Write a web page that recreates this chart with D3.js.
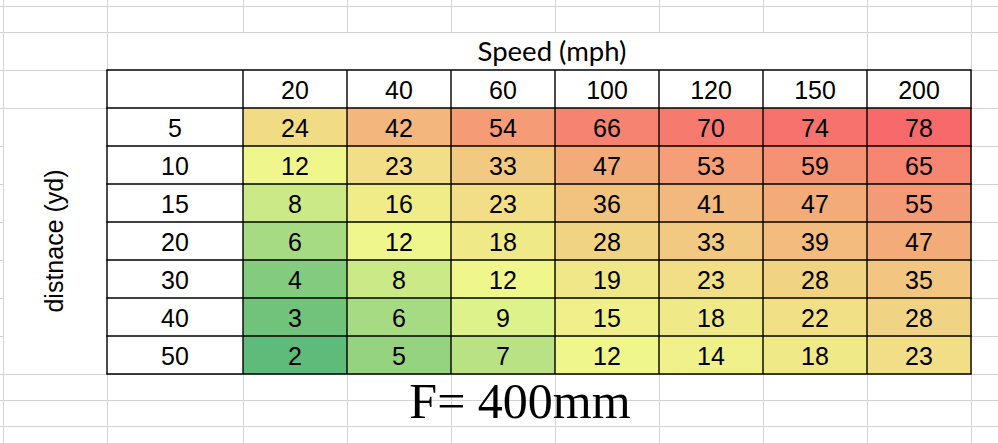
<!DOCTYPE html>
<html>
<head>
<meta charset="utf-8">
<script src="https://cdn.jsdelivr.net/npm/d3@7"></script>
<style>
  html, body { margin: 0; padding: 0; background: #fff; }
  svg { display: block; }
</style>
</head>
<body>
<svg id="chart" width="998" height="443"></svg>
<script>
// ---- data ----
const speeds = [20, 40, 60, 100, 120, 150, 200];      // column headers (mph)
const distances = [5, 10, 15, 20, 30, 40, 50];        // row headers (yd)
const row5  = [24, 42, 54, 66, 70, 74, 78];
const row10 = [12, 23, 33, 47, 53, 59, 65];
const row15 = [8, 16, 23, 36, 41, 47, 55];
const row20 = [6, 12, 18, 28, 33, 39, 47];
const row30 = [4, 8, 12, 19, 23, 28, 35];
const row40 = [3, 6, 9, 15, 18, 22, 28];
const row50 = [2, 5, 7, 12, 14, 18, 23];
const values = [row5, row10, row15, row20, row30, row40, row50];
const colTitle = "Speed (mph)";
const rowTitle = "distnace (yd)";
const footer = "F= 400mm";

// ---- layout ----
const svg = d3.select("#chart");
const W = 998, H = 443;
const x = d3.scaleBand().domain(speeds).range([243, 971]);
const y = d3.scaleBand().domain(distances).range([108, 374]);
const rowH = y.bandwidth();
const labelColL = 107, headerTop = y.range()[0] - rowH;

const cells = [];
values.forEach((r, i) => r.forEach((v, j) => cells.push({ d: distances[i], s: speeds[j], v })));
const vmin = d3.min(cells, c => c.v), vmax = d3.max(cells, c => c.v);
const color = d3.scaleLinear()
  .domain([vmin, 10, vmax])
  .range(["#5fbb79", "#effa8c", "#f8696b"])
  .interpolate(d3.interpolateRgb);

// ---- spreadsheet gridlines ----
const grid = svg.append("g").attr("stroke", "#d3d3d3").attr("stroke-width", 1).attr("shape-rendering", "crispEdges");
const colEdges = [3.5, labelColL + 0.5].concat(speeds.map(s => x(s) + 0.5)).concat([x.range()[1] + 0.5]);
const rowEdges = [6.5, 32.5, headerTop + 0.5].concat(distances.map(d => y(d) + 0.5)).concat([374.5, 400.5, 426.5]);
rowEdges.forEach(ry => {
  const inMerged = ry > y.range()[0] + 1 && ry < y.range()[1] - 1;
  grid.append("line").attr("x1", inMerged ? labelColL : 0).attr("x2", W).attr("y1", ry).attr("y2", ry);
  if (inMerged) grid.append("line").attr("x1", 0).attr("x2", 3.5).attr("y1", ry).attr("y2", ry);
});
colEdges.forEach(cx => {
  const inTitleMerge = cx > labelColL + 1 && cx < x(200) - 1;
  if (inTitleMerge) {
    grid.append("line").attr("x1", cx).attr("x2", cx).attr("y1", 0).attr("y2", 32.5);
    grid.append("line").attr("x1", cx).attr("x2", cx).attr("y1", headerTop).attr("y2", H);
  } else {
    grid.append("line").attr("x1", cx).attr("x2", cx).attr("y1", 0).attr("y2", H);
  }
});

// ---- white table backgrounds ----
svg.append("rect").attr("x", labelColL).attr("y", headerTop)
  .attr("width", x.range()[1] - labelColL).attr("height", y.range()[1] - headerTop).attr("fill", "#fff");
svg.append("rect").attr("x", 4).attr("y", y.range()[0] + 1)
  .attr("width", labelColL - 4).attr("height", y.range()[1] - y.range()[0] - 1).attr("fill", "#fff");
svg.append("rect").attr("x", labelColL + 1).attr("y", 33)
  .attr("width", x(200) - labelColL - 1).attr("height", headerTop - 33).attr("fill", "#fff");

// ---- heat cells ----
svg.append("g").selectAll("rect").data(cells).join("rect")
  .attr("x", c => x(c.s)).attr("y", c => y(c.d))
  .attr("width", x.bandwidth()).attr("height", rowH)
  .attr("fill", c => color(c.v));

// ---- table borders ----
const borders = svg.append("g").attr("stroke", "#000").attr("stroke-width", 1.4);
const vLines = [labelColL].concat(speeds.map(s => x(s))).concat([x.range()[1]]);
vLines.forEach(vx => borders.append("line").attr("x1", vx).attr("x2", vx).attr("y1", headerTop).attr("y2", y.range()[1]));
const hLines = [headerTop].concat(distances.map(d => y(d))).concat([y.range()[1]]);
hLines.forEach(hy => borders.append("line").attr("x1", labelColL - 0.7).attr("x2", x.range()[1] + 0.7).attr("y1", hy).attr("y2", hy));

// ---- text ----
const font = "'Liberation Sans', Arial, Helvetica, sans-serif";
const txt = svg.append("g").attr("font-family", font).attr("font-size", 25).attr("fill", "#000")
  .attr("text-anchor", "middle").attr("dominant-baseline", "central");
txt.selectAll("text.val").data(cells).join("text").attr("class", "val")
  .attr("x", c => x(c.s) + x.bandwidth() / 2).attr("y", c => y(c.d) + rowH / 2 + 1)
  .text(c => c.v);
txt.selectAll("text.colh").data(speeds).join("text").attr("class", "colh")
  .attr("x", s => x(s) + x.bandwidth() / 2).attr("y", headerTop + rowH / 2 + 1)
  .text(s => s);
txt.selectAll("text.rowh").data(distances).join("text").attr("class", "rowh")
  .attr("x", (labelColL + x.range()[0]) / 2).attr("y", d => y(d) + rowH / 2 + 1)
  .text(d => d);

svg.append("text").attr("x", 552).attr("y", 61)
  .attr("font-family", "Lato, 'Liberation Sans', sans-serif").attr("font-size", 27.5)
  .attr("text-anchor", "middle").text(colTitle);

svg.append("text")
  .attr("transform", `translate(${(3 + labelColL) / 2 + 8},${(y.range()[0] + y.range()[1]) / 2}) rotate(-90)`)
  .attr("font-family", font).attr("font-size", 25).attr("text-anchor", "middle")
  .text(rowTitle);

svg.append("text").attr("x", 520).attr("y", 418)
  .attr("font-family", "'Liberation Serif', 'Times New Roman', serif").attr("font-size", 50)
  .attr("text-anchor", "middle").text(footer);
</script>
</body>
</html>
